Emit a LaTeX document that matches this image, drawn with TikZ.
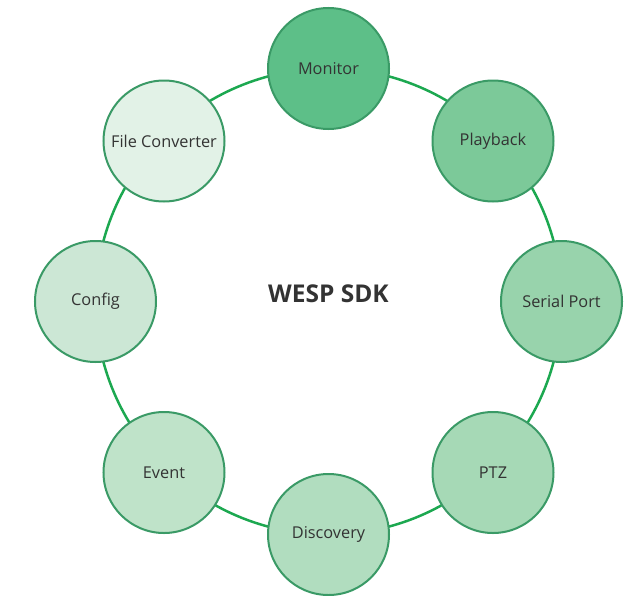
\documentclass[tikz,border=0pt]{standalone}
\usepackage{fontspec}
\setmainfont{Open Sans}
\definecolor{ringgreen}{HTML}{1CA850}
\definecolor{edgegreen}{HTML}{3A9A66}
\definecolor{textgray}{HTML}{333333}
\definecolor{fillA}{HTML}{5DBF88}
\definecolor{fillB}{HTML}{7CC999}
\definecolor{fillC}{HTML}{98D3AC}
\definecolor{fillD}{HTML}{A6D9B6}
\definecolor{fillE}{HTML}{B1DDBF}
\definecolor{fillF}{HTML}{BFE3C9}
\definecolor{fillG}{HTML}{CCE7D5}
\definecolor{fillH}{HTML}{E2F2E7}

\begin{document}
\begin{tikzpicture}[x=1pt,y=1pt,
  module/.style={circle,draw=edgegreen,line width=2pt,minimum size=121pt,inner sep=0pt,
    text=textgray,font=\fontsize{16.3}{19}\selectfont}]
  \useasboundingbox (-328.5,-293.5) rectangle (302.5,301.5);
  \node[text=textgray,font=\fontsize{24.5}{28}\selectfont\bfseries] (sdk) at (0,8) {WESP SDK};
  \draw[ringgreen,line width=2.5pt] (0,0) circle (233);
  \node[module,fill=fillA] (monitor) at (0,233) {Monitor};
  \node[module,fill=fillB] (playback) at (164.5,160.5) {Playback};
  \node[module,fill=fillC] (serial) at (233,0) {Serial Port};
  \node[module,fill=fillD] (ptz) at (164.5,-171) {PTZ};
  \node[module,fill=fillE] (discovery) at (0,-233) {Discovery};
  \node[module,fill=fillF] (event) at (-164.5,-171) {Event};
  \node[module,fill=fillG] (config) at (-233,0) {Config};
  \node[module,fill=fillH] (converter) at (-164.5,160.5) {File Converter};
\end{tikzpicture}
\end{document}
